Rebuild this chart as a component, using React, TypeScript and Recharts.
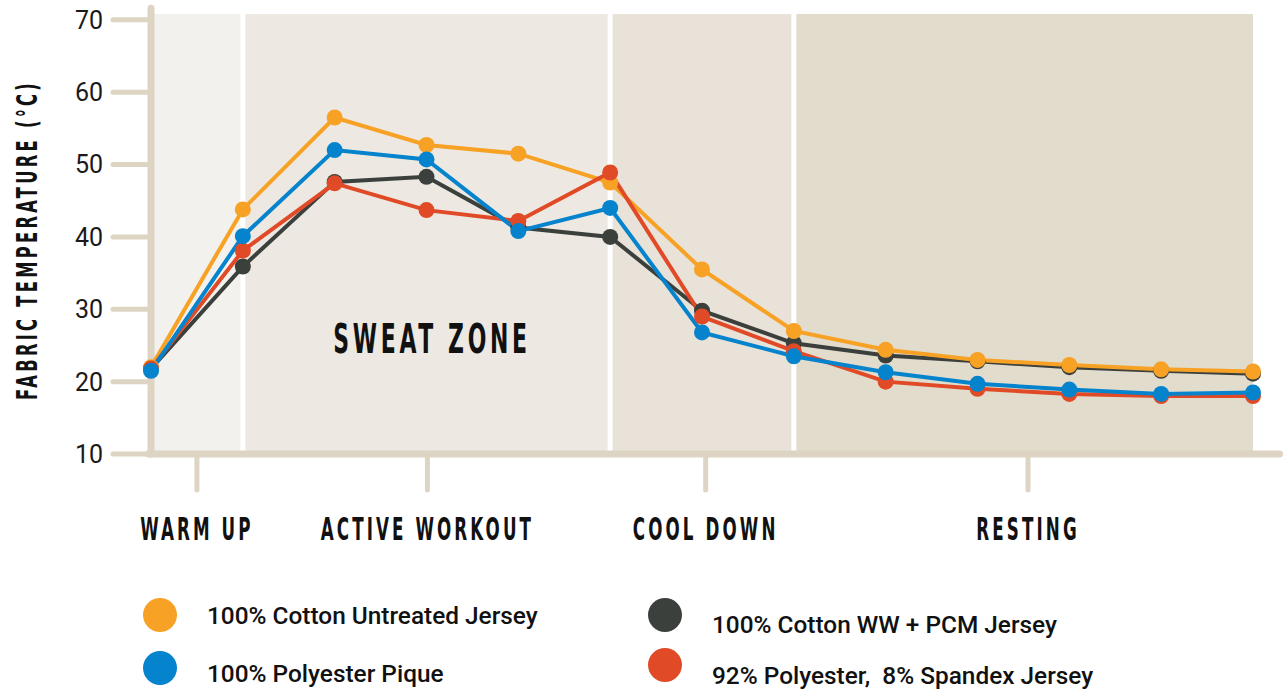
import React from 'react'
import {
  LineChart, Line, XAxis, YAxis, ReferenceArea, ReferenceLine
} from 'recharts'

// 13 measurement points across the session
const steps = [0, 1, 2, 3, 4, 5, 6, 7, 8, 9, 10, 11, 12]

const phaseTicks = [0.5, 3.01, 6.04, 9.55]
const phaseLabels = ['WARM UP', 'ACTIVE WORKOUT', 'COOL DOWN', 'RESTING']
const tempTicks = [10, 20, 30, 40, 50, 60, 70]

// fabric temperature (°C)
const cottonUntreated = [22, 43.8, 56.5, 52.7, 51.5, 47.5, 35.5, 27, 24.4, 23, 22.3, 21.7, 21.4]
const cottonPcm = [21.8, 35.9, 47.6, 48.3, 41.3, 40, 29.8, 25.3, 23.6, 22.8, 22, 21.5, 21.1]
const polyPique = [21.5, 40.1, 52, 50.7, 40.8, 44, 26.8, 23.5, 21.3, 19.7, 18.9, 18.3, 18.5]
const polySpandex = [21.8, 38.1, 47.4, 43.7, 42.2, 48.9, 29, 24.2, 20, 19, 18.3, 18, 18]

const data = steps.map(i => ({
  i,
  cottonUntreated: cottonUntreated[i],
  cottonPcm: cottonPcm[i],
  polyPique: polyPique[i],
  polySpandex: polySpandex[i],
}))

const AXIS = '#ddd4c3'
const COND = "'Liberation Sans Narrow', 'DejaVu Sans Condensed', 'Roboto Condensed', sans-serif"

const SERIES = [
  { key: 'cottonPcm', color: '#3b403d', name: '100% Cotton WW + PCM Jersey' },
  { key: 'cottonUntreated', color: '#f7a125', name: '100% Cotton Untreated Jersey' },
  { key: 'polySpandex', color: '#e04a27', name: '92% Polyester,  8% Spandex Jersey' },
  { key: 'polyPique', color: '#0683cd', name: '100% Polyester Pique' },
]
const colorOf = (k: string) => SERIES.find(s => s.key === k)!.color

function PhaseTick({ x, y, payload }: any) {
  const label = phaseLabels[phaseTicks.indexOf(payload.value)]
  return (
    <g transform={`translate(${x},${y + 50})`}>
      <text transform="scale(0.62,1.05)" textAnchor="middle" fontFamily={COND} fontWeight={700}
        fontSize={30} letterSpacing={5} fill="#111">{label}</text>
    </g>
  )
}

function LegendItem({ color, label, x, y, ty }: { color: string; label: string; x: number; y: number; ty: number }) {
  return (
    <>
      <div style={{
        position: 'absolute', left: x - 17, top: y - 17, width: 34, height: 34,
        borderRadius: '50%', background: color,
      }} />
      <div style={{
        position: 'absolute', left: x + 47, top: ty - 13, fontFamily: 'Roboto, sans-serif',
        fontSize: 24.4, fontWeight: 500, lineHeight: '28px', color: '#111', whiteSpace: 'pre',
      }}>{label}</div>
    </>
  )
}

export default function App() {
  return (
    <div style={{ position: 'absolute', left: 0, top: 0, width: 1286, height: 690, background: '#fff', overflow: 'hidden' }}>
      <LineChart width={1286} height={690} data={data} margin={{ top: 14, right: 33, bottom: 206, left: 0 }}>
        {/* phase bands */}
        <ReferenceArea x1={0} x2={1} y1={10} y2={70.8} fill="#f2f1ed" fillOpacity={1} stroke="none" />
        <ReferenceArea x1={1} x2={5} y1={10} y2={70.8} fill="#ede9e2" fillOpacity={1} stroke="none" />
        <ReferenceArea x1={5} x2={7} y1={10} y2={70.8} fill="#e8e2d8" fillOpacity={1} stroke="none" />
        <ReferenceArea x1={7} x2={12} y1={10} y2={70.8} fill="#e2dccd" fillOpacity={1} stroke="none" />
        <ReferenceLine x={1} stroke="#fff" strokeWidth={5} />
        <ReferenceLine x={5} stroke="#fff" strokeWidth={5} />
        <ReferenceLine x={7} stroke="#fff" strokeWidth={5} />

        <XAxis dataKey="i" type="number" domain={[0, 12]} ticks={phaseTicks} axisLine={false}
          height={30} tickSize={36} tickMargin={0} interval={0}
          tickLine={{ stroke: AXIS, strokeWidth: 5, strokeLinecap: 'round' }}
          tick={<PhaseTick />} />
        <YAxis type="number" domain={[10, 70.8]} ticks={tempTicks} width={151} axisLine={false}
          allowDataOverflow tickSize={38} tickMargin={10}
          tickLine={{ stroke: AXIS, strokeWidth: 5, strokeLinecap: 'round' }}
          tick={{ fontFamily: 'Roboto, sans-serif', fontSize: 25, fill: '#1a1a1a' }} />

        {/* axis lines, longer than the plot like the original */}
        <ReferenceLine segment={[{ x: 0, y: 10 }, { x: 0, y: 71.6 }]} ifOverflow="visible"
          stroke={AXIS} strokeWidth={7} strokeLinecap="round" />
        <ReferenceLine segment={[{ x: -0.03, y: 10 }, { x: 12.29, y: 10 }]} ifOverflow="visible"
          stroke={AXIS} strokeWidth={7} strokeLinecap="round" />

        {SERIES.map(s => (
          <Line key={s.key} dataKey={s.key} type="linear" stroke={s.color} strokeWidth={4}
            dot={{ r: 8, fill: s.color, stroke: 'none' }} activeDot={false}
            isAnimationActive={false} />
        ))}
      </LineChart>

      <svg width={1286} height={690} style={{ position: 'absolute', left: 0, top: 0, pointerEvents: 'none' }}>
        <g transform="translate(37,240) rotate(-90)">
          <text transform="scale(0.65,1)" textAnchor="middle" fontFamily={COND} fontWeight={700}
            fontSize={28} letterSpacing={5} fill="#111">FABRIC TEMPERATURE (°C)</text>
        </g>
        <g transform="translate(432,353)">
          <text transform="scale(0.61,1.02)" textAnchor="middle" fontFamily={COND} fontWeight={700}
            fontSize={40} letterSpacing={6} fill="#111">SWEAT ZONE</text>
        </g>
      </svg>

      <LegendItem color={colorOf('cottonUntreated')} label="100% Cotton Untreated Jersey" x={160} y={615} ty={615} />
      <LegendItem color={colorOf('polyPique')} label="100% Polyester Pique" x={160} y={668} ty={673} />
      <LegendItem color={colorOf('cottonPcm')} label="100% Cotton WW + PCM Jersey" x={665} y={615} ty={624} />
      <LegendItem color={colorOf('polySpandex')} label="92% Polyester,  8% Spandex Jersey" x={665} y={665} ty={675} />
    </div>
  )
}
